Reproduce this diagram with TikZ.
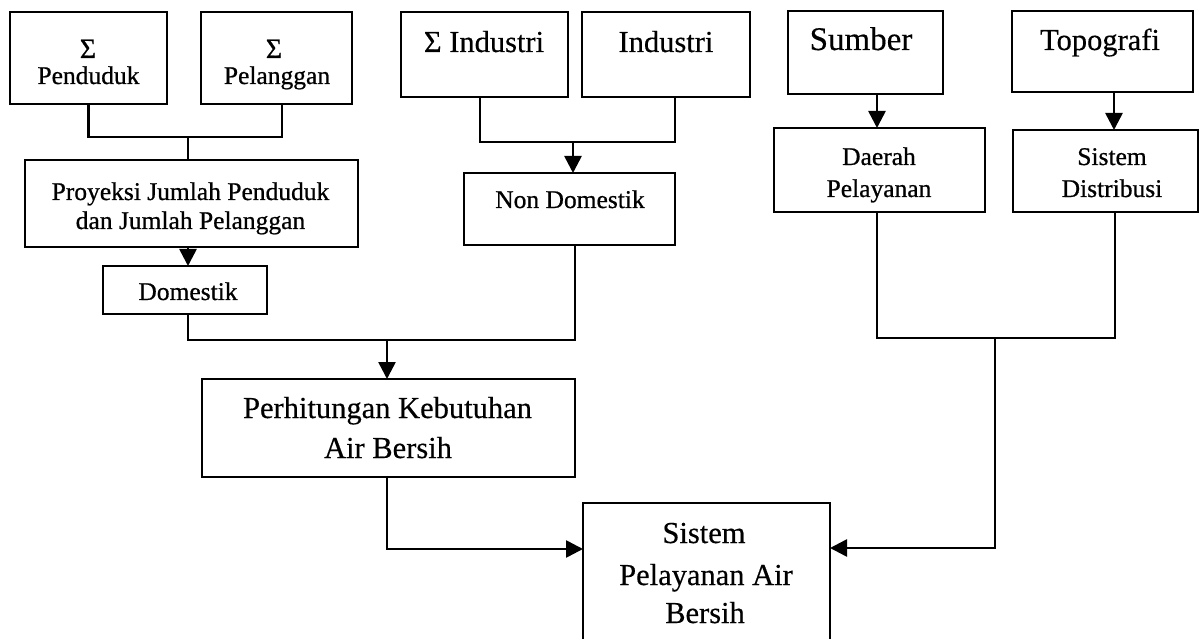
\documentclass[tikz,border=0pt]{standalone}
\usepackage{fontspec}
\setmainfont{Liberation Serif}
\newfontfamily\smallface{Liberation Serif}[FakeBold=0.7]
\newfontfamily\largeface{Liberation Serif}[FakeBold=0.4]
\usetikzlibrary{arrows.meta}
\begin{document}
\begin{tikzpicture}[x=1pt,y=-1pt,
  box/.style={draw, line width=2.6pt, inner sep=0pt, outer sep=0pt},
  wire/.style={line width=2.6pt},
  arr/.style={line width=2.6pt, -{Triangle[length=17pt,width=17pt]}},
  txtS/.style={font=\smallface\fontsize{25.5}{30}\selectfont, anchor=base, inner sep=0pt},
  txtL/.style={font=\largeface\fontsize{30.5}{36}\selectfont, anchor=base, inner sep=0pt}]
\useasboundingbox (0,0) rectangle (1200,639);

% boxes
\node[box, minimum width=157, minimum height=92] (pend) at (88.5,58) {};
\node[box, minimum width=151, minimum height=92] (pel) at (276.5,58) {};
\node[box, minimum width=333, minimum height=87] (proy) at (191.5,203.5) {};
\node[box, minimum width=164, minimum height=48] (dom) at (185,290) {};
\node[box, minimum width=167, minimum height=85] (sind) at (484.5,54.5) {};
\node[box, minimum width=168, minimum height=85] (ind) at (666,54.5) {};
\node[box, minimum width=211, minimum height=72] (nond) at (569.5,209) {};
\node[box, minimum width=155, minimum height=83] (sumber) at (865.5,52.5) {};
\node[box, minimum width=181, minimum height=81] (topo) at (1102.5,51.5) {};
\node[box, minimum width=211, minimum height=84] (daerah) at (879.5,170) {};
\node[box, minimum width=185, minimum height=82] (sisdis) at (1105.5,171) {};
\node[box, minimum width=373, minimum height=98] (perh) at (388.5,428) {};
\node[box, minimum width=247, minimum height=147] (sp) at (706.5,576.5) {};

% labels
\node[txtS, font=\smallface\fontsize{28}{30}\selectfont] (pendA) at (88,58) {Σ};
\node[txtS] (pendB) at (88.5,84) {Penduduk};
\node[txtS, font=\smallface\fontsize{28}{30}\selectfont] (pelA) at (274,58) {Σ};
\node[txtS] (pelB) at (277,84) {Pelanggan};
\node[txtS] (proyA) at (190.5,200) {Proyeksi Jumlah Penduduk};
\node[txtS] (proyB) at (190.5,229) {dan Jumlah Pelanggan};
\node[txtS] (domA) at (188,300) {Domestik};
\node[txtL] (sindA) at (484,52) {Σ Industri};
\node[txtL] (indA) at (666,52) {Industri};
\node[txtS] (nondA) at (570,208) {Non Domestik};
\node[txtL, font=\largeface\fontsize{33}{36}\selectfont] (sumberA) at (861,50) {Sumber};
\node[txtL] (topoA) at (1100,50) {Topografi};
\node[txtS] (daerahA) at (879,165) {Daerah};
\node[txtS] (daerahB) at (879,197) {Pelayanan};
\node[txtS] (sisdisA) at (1112,165) {Sistem};
\node[txtS] (sisdisB) at (1112,197) {Distribusi};
\node[txtL] (perhA) at (387.5,418) {Perhitungan Kebutuhan};
\node[txtL] (perhB) at (388,458) {Air Bersih};
\node[txtL] (spA) at (704,543) {Sistem};
\node[txtL] (spB) at (706,585) {Pelayanan Air};
\node[txtL] (spC) at (705,623) {Bersih};

% junctions
\coordinate (j1) at (188,137);
\coordinate (j2) at (573,142);
\coordinate (j3) at (387,340);
\coordinate (j4) at (995,338);

% connectors
\draw[wire] (pend.south) |- (j1) -| ([xshift=5.5pt]pel.south);
\draw[wire] (j1) -- (j1 |- proy.north);
\draw[arr] (proy.south -| j1) -- (dom.north -| j1);

\draw[wire] ([xshift=-4.5pt]sind.south) |- (j2) -| ([xshift=9pt]ind.south);
\draw[arr] (j2) -- (j2 |- nond.north);

\draw[wire] ([xshift=3pt]dom.south) |- (j3) -| ([xshift=5.5pt]nond.south);
\draw[arr] (j3) -- (j3 |- perh.north);

\draw[arr] ([xshift=11.5pt]sumber.south) coordinate (s1) -- (s1 |- daerah.north);
\draw[arr] ([xshift=11.5pt]topo.south) coordinate (t1) -- (t1 |- sisdis.north);

\draw[wire] ([xshift=-2.5pt]daerah.south) |- (j4) -| ([xshift=9.5pt]sisdis.south);
\draw[arr] (j4) |- ([yshift=28.5pt]sp.east);
\draw[arr] (perh.south -| j3) |- ([yshift=27.5pt]sp.west);
\end{tikzpicture}
\end{document}
